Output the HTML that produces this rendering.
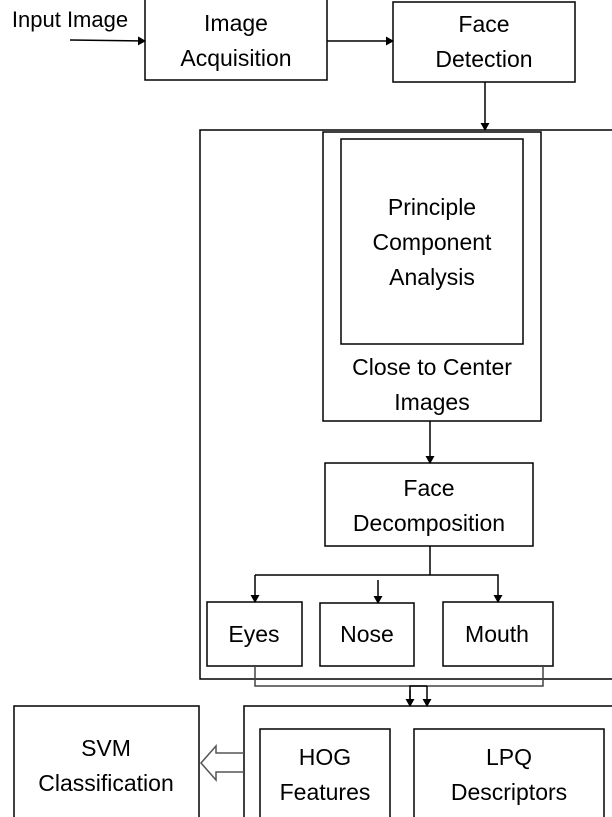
<!DOCTYPE html>
<html><head><style>body{margin:0;background:#fff}svg{display:block}</style></head><body>
<svg width="612" height="817" xmlns="http://www.w3.org/2000/svg" font-family="Liberation Sans, sans-serif" font-size="23" fill="#000">
<defs><marker id="a" markerWidth="8" markerHeight="9" refX="7" refY="4.5" orient="auto" markerUnits="userSpaceOnUse"><path d="M0,0L8,4.5L0,9z" fill="#000"/></marker></defs>
<g fill="none" stroke="#000" stroke-width="1.5">
<rect x="145" y="-1" width="182" height="81"/>
<rect x="393" y="2" width="182" height="80"/>
<rect x="200" y="130" width="420" height="549"/>
<rect x="323" y="132" width="218" height="289"/>
<rect x="341" y="139" width="182" height="205"/>
<rect x="325" y="463" width="208" height="83"/>
<rect x="207" y="602" width="95" height="64"/>
<rect x="320" y="603" width="94" height="63"/>
<rect x="443" y="602" width="110" height="64"/>
<rect x="244" y="706" width="380" height="120"/>
<rect x="260" y="729" width="130" height="100"/>
<rect x="414" y="729" width="190" height="100"/>
<rect x="14" y="706" width="185" height="120"/>
<line x1="70" y1="40" x2="145" y2="41" marker-end="url(#a)"/>
<line x1="327" y1="41" x2="393" y2="41" marker-end="url(#a)"/>
<line x1="485" y1="82" x2="485" y2="130" marker-end="url(#a)"/>
<line x1="430" y1="421" x2="430" y2="463" marker-end="url(#a)"/>
<line x1="430" y1="546" x2="430" y2="575"/>
<polyline points="255,575 498,575 498,602" marker-end="url(#a)"/>
<line x1="255" y1="575" x2="255" y2="602" marker-end="url(#a)"/>
<line x1="378" y1="580" x2="378" y2="603" marker-end="url(#a)"/>
<polyline points="255,666 255,686 543,686 543,666" stroke="#444"/>
<polyline points="410,706 410,686 427,686"/>
<line x1="410" y1="690" x2="410" y2="706" marker-end="url(#a)"/>
<line x1="427" y1="686" x2="427" y2="706" marker-end="url(#a)"/>
<path d="M244,753 L216,753 L216,746 L201,763 L216,780 L216,772 L244,772" stroke="#555"/>
</g>
<g text-anchor="middle">
<text x="70" y="27" font-size="22">Input Image</text>
<text x="236" y="31">Image</text><text x="236" y="66">Acquisition</text>
<text x="484" y="32">Face</text><text x="484" y="67">Detection</text>
<text x="432" y="215">Principle</text><text x="432" y="250">Component</text><text x="432" y="285">Analysis</text>
<text x="432" y="375">Close to Center</text><text x="432" y="410">Images</text>
<text x="429" y="496">Face</text><text x="429" y="531">Decomposition</text>
<text x="254" y="642">Eyes</text><text x="367" y="642">Nose</text><text x="497" y="642">Mouth</text>
<text x="325" y="765">HOG</text><text x="325" y="800">Features</text>
<text x="509" y="765">LPQ</text><text x="509" y="800">Descriptors</text>
<text x="106" y="756">SVM</text><text x="106" y="791">Classification</text>
</g>
</svg>
</body></html>
